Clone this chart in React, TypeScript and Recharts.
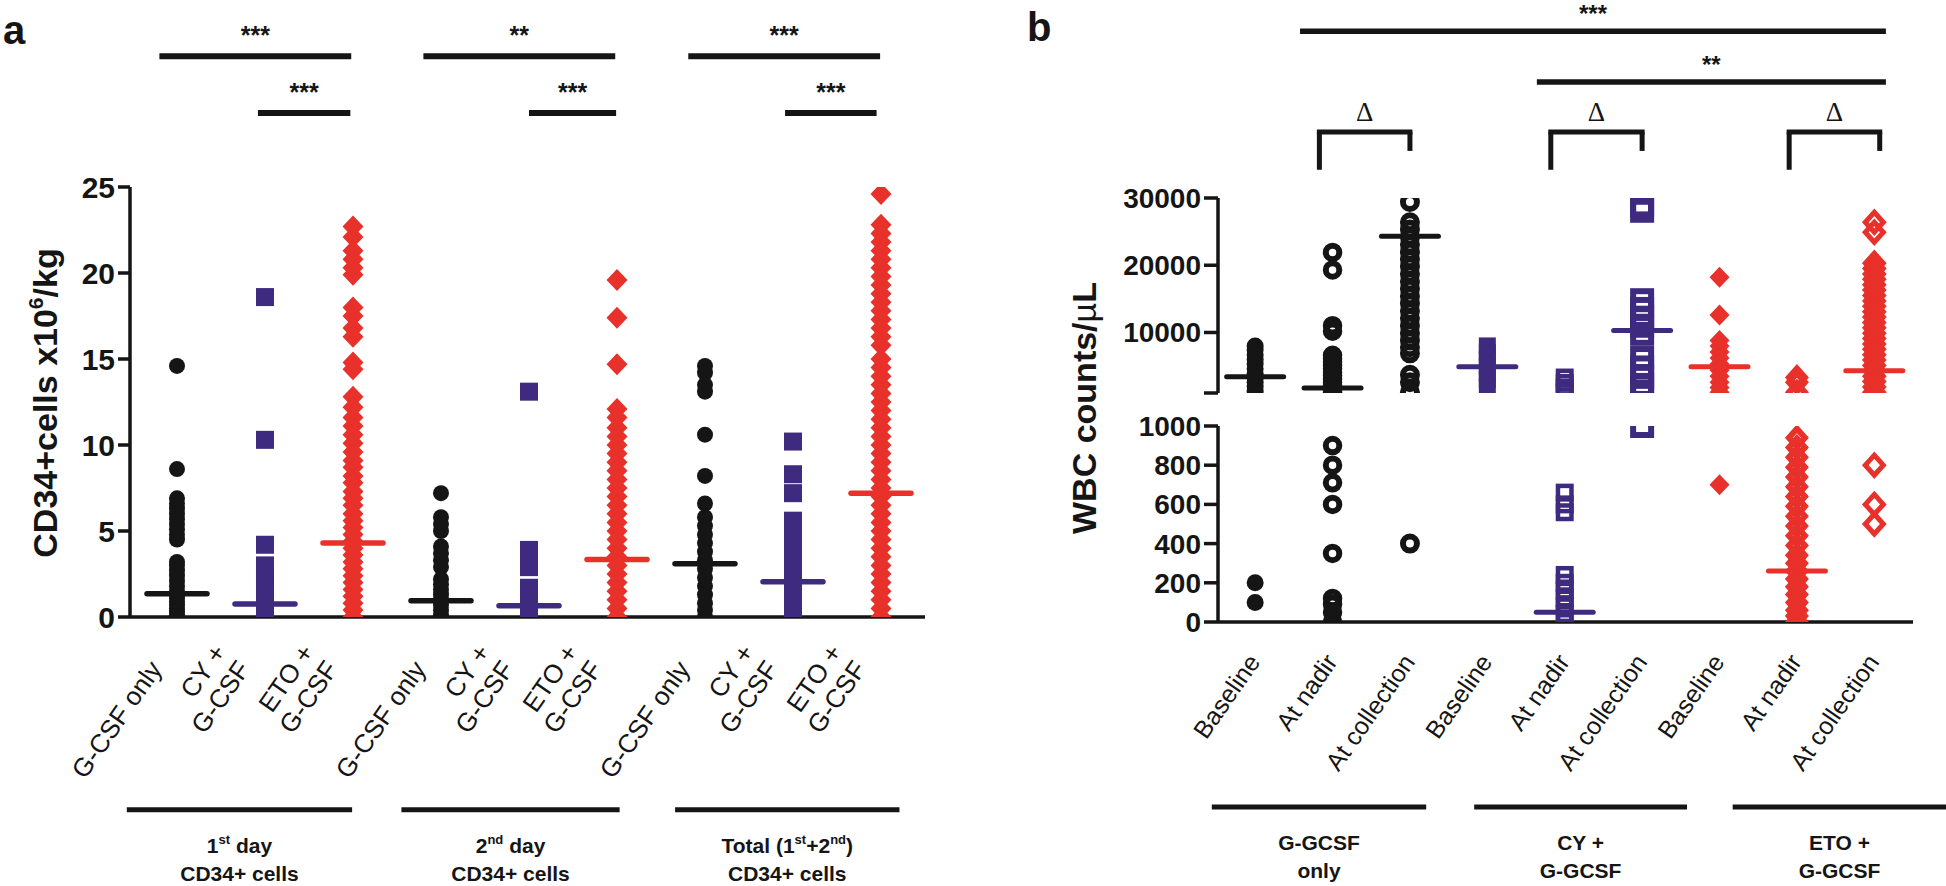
import React from 'react'
import { ScatterChart, Scatter, XAxis, YAxis, ReferenceLine, ReferenceDot } from 'recharts'

const FONT = '"Liberation Sans", Arial, Helvetica, sans-serif'
const BLACK = '#151515'
const PURPLE = '#3e2a7f'
const RED = '#e8312a'
const AXIS = { stroke: BLACK, strokeWidth: 3.5 }

const COLS = [1, 2, 3, 4, 5, 6, 7, 8, 9]
const A_COLORS = [BLACK, PURPLE, RED, BLACK, PURPLE, RED, BLACK, PURPLE, RED]
const B_COLORS = [BLACK, BLACK, BLACK, PURPLE, PURPLE, PURPLE, RED, RED, RED]

// ---------- panel a: CD34+ cells x10^6/kg ----------
const A_TICK_LABELS = ['G-CSF only', 'CY +\nG-CSF', 'ETO +\nG-CSF', 'G-CSF only', 'CY +\nG-CSF', 'ETO +\nG-CSF', 'G-CSF only', 'CY +\nG-CSF', 'ETO +\nG-CSF']
const A_Y_TICKS = [0, 5, 10, 15, 20, 25]
const A_GROUPS = [['1^{st} day', 'CD34+ cells'], ['2^{nd} day', 'CD34+ cells'], ['Total (1^{st}+2^{nd})', 'CD34+ cells']]

const day1Gcsf = [14.6, 8.6, 6.9, 6.6, 6.3, 6.0, 5.7, 5.4, 5.1, 4.8, 4.5, 3.2, 3.0, 2.7, 2.4, 2.1, 1.8, 1.5, 1.3, 1.1, 0.9, 0.7, 0.5, 0.3, 0.1, 0.0]
const day1Cy = [18.6, 10.3, 4.2, 3.0, 2.4, 1.8, 1.2, 0.6, 0.0]
const day1Eto = [22.7, 22.1, 21.3, 20.8, 20.3, 19.9, 18.0, 17.5, 16.8, 16.3, 14.8, 14.4, 12.8, 12.2, 11.6, 11.1, 10.6, 10.1, 9.6, 9.1, 8.7, 8.2, 7.8, 7.3, 6.9, 6.5, 6.0, 5.6, 5.2, 4.8, 4.4, 4.0, 3.6, 3.2, 2.8, 2.4, 2.0, 1.6, 1.2, 0.8, 0.4, 0.0]
const day2Gcsf = [7.2, 5.8, 5.4, 5.0, 4.1, 3.7, 3.3, 2.9, 2.2, 1.9, 1.6, 1.3, 1.0, 0.7, 0.4, 0.1, 0.0]
const day2Cy = [13.1, 3.9, 2.9, 1.7, 1.1, 0.5, 0.0]
const day2Eto = [19.6, 17.4, 14.7, 12.1, 11.6, 11.0, 10.5, 10.0, 9.5, 9.0, 8.5, 8.0, 7.5, 7.0, 6.5, 6.0, 5.5, 5.0, 4.5, 4.0, 3.5, 3.0, 2.5, 2.0, 1.5, 1.0, 0.5, 0.0]
const totalGcsf = [14.6, 14.2, 13.5, 13.1, 10.6, 8.2, 6.6, 5.8, 5.3, 4.8, 4.3, 3.8, 3.3, 2.8, 2.3, 1.8, 1.3, 0.8, 0.4, 0.0]
const totalCy = [10.2, 8.3, 7.2, 5.6, 4.6, 3.8, 3.0, 2.2, 1.4, 0.6, 0.0]
const totalEto = [24.6, 22.8, 22.3, 21.8, 21.3, 20.8, 20.3, 19.8, 19.3, 18.8, 18.3, 17.8, 17.3, 16.8, 16.3, 15.8, 15.0, 14.5, 14.0, 13.5, 13.0, 12.5, 12.0, 11.5, 11.0, 10.5, 10.0, 9.5, 9.0, 8.5, 8.0, 7.5, 7.0, 6.5, 6.0, 5.5, 5.0, 4.5, 4.0, 3.5, 3.0, 2.5, 2.0, 1.5, 1.0, 0.5, 0.0]
const A_VALUES = [day1Gcsf, day1Cy, day1Eto, day2Gcsf, day2Cy, day2Eto, totalGcsf, totalCy, totalEto]
const A_MEDIANS = [1.35, 0.75, 4.3, 0.95, 0.65, 3.35, 3.1, 2.05, 7.2]

// significance bars (x in column units, y in axis units)
const A_SIG = [
  { x1: 0.8, x2: 2.98, y: 32.6, label: '***' },
  { x1: 1.92, x2: 2.97, y: 29.3, label: '***' },
  { x1: 3.8, x2: 5.98, y: 32.6, label: '**' },
  { x1: 5.0, x2: 5.99, y: 29.3, label: '***' },
  { x1: 6.81, x2: 8.99, y: 32.6, label: '***' },
  { x1: 7.91, x2: 8.95, y: 29.3, label: '***' },
]
const A_GROUP_LINES = [{ x1: 0.43, x2: 2.99 }, { x1: 3.55, x2: 6.03 }, { x1: 6.66, x2: 9.21 }]
const A_GROUP_Y = -11.2

// ---------- panel b: WBC counts/uL ----------
const B_TICK_LABELS = ['Baseline', 'At nadir', 'At collection', 'Baseline', 'At nadir', 'At collection', 'Baseline', 'At nadir', 'At collection']
const B_UPPER_TICKS = [1000, 10000, 20000, 30000]
const B_LOWER_TICKS = [0, 200, 400, 600, 800, 1000]
const B_BREAK = 1000
const B_GROUPS = [['G-GCSF', 'only'], ['CY +', 'G-GCSF'], ['ETO +', 'G-GCSF']]

const gcsfBaseline = [8000, 7400, 6700, 6000, 5300, 4600, 3900, 3200, 2600, 2000, 1300, 200, 100]
const gcsfNadir = [21900, 19300, 11000, 10200, 6600, 6100, 5600, 5100, 4600, 4100, 3600, 3100, 2600, 2100, 1600, 1100, 900, 800, 710, 600, 350, 120, 90, 50, 0]
const gcsfCollection = [29400, 26400, 25300, 24200, 23100, 22000, 20900, 19800, 18700, 17600, 16500, 15400, 14300, 13200, 12100, 11000, 9900, 8800, 7800, 6900, 3700, 2600, 1100, 400]
const cyBaseline = [8000, 7000, 6000, 5000, 4000, 3000, 1900]
const cyNadir = [3300, 2500, 1800, 1100, 660, 600, 560, 240, 200, 160, 120, 80, 40, 0]
const cyCollection = [28900, 28100, 14800, 13500, 12200, 11000, 9800, 6200, 4800, 3400, 2200, 1200, 1000]
const etoBaseline = [18200, 12600, 8800, 8000, 7100, 6200, 5300, 4400, 3500, 2600, 1800, 1100, 700]
const etoNadir = [3300, 2600, 1100, 940, 890, 840, 790, 740, 690, 640, 590, 540, 490, 440, 390, 340, 300, 260, 220, 180, 140, 100, 60, 30, 0]
const etoCollection = [26400, 24900, 20300, 19500, 18700, 17900, 17100, 16300, 15500, 14700, 13900, 13100, 12300, 11500, 10700, 9900, 9100, 8300, 7500, 6700, 5900, 5100, 4300, 3500, 2700, 1900, 1100, 800, 600, 500]
const B_VALUES = [gcsfBaseline, gcsfNadir, gcsfCollection, cyBaseline, cyNadir, cyCollection, etoBaseline, etoNadir, etoCollection]
const B_MEDIANS = [3400, 1750, 24300, 4900, 50, 10300, 4900, 260, 4300]

const B_SIG = [
  { x1: 1.58, x2: 9.15, y: 54800, label: '***' },
  { x1: 4.64, x2: 9.15, y: 47250, label: '**' },
]
const B_BRACKETS = [{ x1: 1.83, x2: 3.0 }, { x1: 4.82, x2: 6.0 }, { x1: 7.9, x2: 9.07 }]
const B_BRACKET_TOP = 39800
const B_BRACKET_LEFT_END = 34200
const B_BRACKET_RIGHT_END = 37000
const B_GROUP_LINES = [{ x1: 0.44, x2: 3.21 }, { x1: 3.83, x2: 6.58 }, { x1: 7.17, x2: 9.93 }]
const B_GROUP_Y = -944

type Marker = { kind: string; color: string; w: number; h?: number; sw?: number }

const A_MARKERS: Marker[] = [0, 1, 2, 3, 4, 5, 6, 7, 8].map((i) =>
  i % 3 === 0 ? { kind: 'circle', color: BLACK, w: 16 } : i % 3 === 1 ? { kind: 'square', color: PURPLE, w: 18 } : { kind: 'diamond', color: RED, w: 21, h: 22 }
)
const B_MARKERS: Marker[] = [
  { kind: 'circle', color: BLACK, w: 17 },
  { kind: 'ring', color: BLACK, w: 13.5, sw: 6 },
  { kind: 'ring', color: BLACK, w: 14, sw: 6 },
  { kind: 'square', color: PURPLE, w: 17 },
  { kind: 'openSquare', color: PURPLE, w: 13.5, sw: 4.5 },
  { kind: 'openSquare', color: PURPLE, w: 18, sw: 6 },
  { kind: 'diamond', color: RED, w: 20, h: 21 },
  { kind: 'openDiamond', color: RED, w: 16, h: 18, sw: 6 },
  { kind: 'openDiamond', color: RED, w: 18, h: 20, sw: 5 },
]

function markerShape(m: Marker) {
  return (p: any) => {
    const { cx, cy } = p
    if (cx == null || cy == null) return <g />
    const w = m.w
    const h = m.h ?? m.w
    const dia = `M${cx},${cy - h / 2}L${cx + w / 2},${cy}L${cx},${cy + h / 2}L${cx - w / 2},${cy}Z`
    switch (m.kind) {
      case 'circle':
        return <circle cx={cx} cy={cy} r={w / 2} fill={m.color} />
      case 'ring':
        return <circle cx={cx} cy={cy} r={w / 2} fill="none" stroke={m.color} strokeWidth={m.sw} />
      case 'square':
        return <rect x={cx - w / 2} y={cy - h / 2} width={w} height={h} fill={m.color} />
      case 'openSquare':
        return <rect x={cx - w / 2} y={cy - h / 2} width={w} height={h} fill="none" stroke={m.color} strokeWidth={m.sw} />
      case 'diamond':
        return <path d={dia} fill={m.color} />
      default:
        return <path d={dia} fill="none" stroke={m.color} strokeWidth={m.sw} />
    }
  }
}

function medianShape(colors: string[], width: number, thick: number) {
  return (p: any) => {
    const { cx, cy, payload } = p
    if (cx == null || cy == null) return <g />
    const color = colors[payload.x - 1]
    return <line x1={cx - width / 2} x2={cx + width / 2} y1={cy} y2={cy} stroke={color} strokeWidth={thick} strokeLinecap="round" />
  }
}

// text with ^{...} superscripts
function rich(str: string, fs: number) {
  const parts = str.split(/\^\{([^}]*)\}/)
  const out: React.ReactNode[] = []
  let shifted = false
  parts.forEach((p, i) => {
    if (i % 2 === 1) {
      out.push(<tspan key={i} dy={shifted ? 0 : -fs * 0.4} fontSize={fs * 0.62}>{p}</tspan>)
      shifted = true
    } else if (p) {
      out.push(<tspan key={i} dy={shifted ? fs * 0.4 : 0}>{p}</tspan>)
      shifted = false
    }
  })
  return out
}

function RotTick(props: any) {
  const { x, y, payload, labels, dx, dy, fs } = props
  const lines = String(labels[Math.round(payload.value) - 1]).split('\n')
  const ax = x + dx
  const ay = y + dy
  return (
    <text transform={`rotate(-55 ${ax} ${ay})`} x={ax} y={ay} textAnchor="end" fontSize={fs} fontFamily={FONT} fill={BLACK}>
      {lines.map((l, i) => (
        <tspan key={i} x={ax} dy={i === 0 ? -(lines.length - 1) * fs * 1.12 : fs * 1.12}>{l}</tspan>
      ))}
    </text>
  )
}

const textShape = (content: string, fs: number, dy: number, weight = 'bold', family = FONT) => (p: any) => (
  <text x={p.cx} y={p.cy + dy} textAnchor="middle" fontSize={fs} fontWeight={weight} fontFamily={family} fill={BLACK}>{content}</text>
)

const groupShape = (lines: string[]) => (p: any) => (
  <text x={p.cx} y={p.cy} textAnchor="middle" fontSize={21} fontWeight="bold" fontFamily={FONT} fill={BLACK}>
    <tspan x={p.cx} y={p.cy + 43}>{rich(lines[0], 21)}</tspan>
    <tspan x={p.cx} y={p.cy + 71}>{rich(lines[1], 21)}</tspan>
  </text>
)

const yTickStyle = (fs: number) => ({ fontSize: fs, fontWeight: 'bold', fill: BLACK, fontFamily: FONT })

function PanelA() {
  return (
    <ScatterChart width={960} height={886} margin={{ top: 187, right: 35, bottom: 209, left: 0 }}>
      <XAxis type="number" dataKey="x" domain={[0.466, 9.5]} ticks={COLS} interval={0} allowDataOverflow height={60}
        tickLine={false} tickSize={0} tickMargin={0} axisLine={AXIS}
        tick={(p: any) => <RotTick {...p} labels={A_TICK_LABELS} dx={-14} dy={52} fs={26} />} />
      <YAxis type="number" dataKey="y" domain={[0, 25]} ticks={A_Y_TICKS} interval={0} allowDataOverflow width={130}
        tickSize={12} tickMargin={3} axisLine={AXIS} tickLine={AXIS} tick={yTickStyle(30)} />
      {A_VALUES.map((vals, i) => (
        <Scatter key={i} data={vals.map((v) => ({ x: i + 1, y: v }))} shape={markerShape(A_MARKERS[i])} isAnimationActive={false} />
      ))}
      <Scatter data={A_MEDIANS.map((m, i) => ({ x: i + 1, y: m }))} shape={medianShape(A_COLORS, 60, 5.5)} isAnimationActive={false} />
      {A_SIG.map((s, i) => (
        <ReferenceLine key={'sl' + i} segment={[{ x: s.x1, y: s.y }, { x: s.x2, y: s.y }]} stroke={BLACK} strokeWidth={6} ifOverflow="visible" />
      ))}
      {A_SIG.map((s, i) => (
        <ReferenceDot key={'st' + i} x={(s.x1 + s.x2) / 2} y={s.y} ifOverflow="visible" shape={textShape(s.label, 25, -12)} />
      ))}
      {A_GROUP_LINES.map((g, i) => (
        <ReferenceLine key={'gl' + i} segment={[{ x: g.x1, y: A_GROUP_Y }, { x: g.x2, y: A_GROUP_Y }]} stroke={BLACK} strokeWidth={5} ifOverflow="visible" />
      ))}
      {A_GROUP_LINES.map((g, i) => (
        <ReferenceDot key={'gt' + i} x={(g.x1 + g.x2) / 2} y={A_GROUP_Y} ifOverflow="visible" shape={groupShape(A_GROUPS[i])} />
      ))}
    </ScatterChart>
  )
}

function PanelBUpper() {
  return (
    <ScatterChart width={986} height={410} margin={{ top: 198, right: 33, bottom: 17, left: 0 }}>
      <XAxis type="number" dataKey="x" domain={[0.52, 9.5]} allowDataOverflow hide />
      <YAxis type="number" dataKey="y" domain={[B_BREAK, 30000]} ticks={B_UPPER_TICKS} interval={0} allowDataOverflow width={258}
        tickSize={14} tickMargin={3} axisLine={AXIS} tickLine={AXIS} tick={yTickStyle(28)}
        tickFormatter={(v: number) => (v === B_BREAK ? '' : String(v))} />
      {B_VALUES.map((vals, i) => (
        <Scatter key={i} data={vals.filter((v) => v > B_BREAK).map((v) => ({ x: i + 1, y: v }))} shape={markerShape(B_MARKERS[i])} isAnimationActive={false} />
      ))}
      <Scatter data={B_MEDIANS.map((m, i) => ({ x: i + 1, y: m })).filter((d) => d.y > B_BREAK)} shape={medianShape(B_COLORS, 57, 5)} isAnimationActive={false} />
      {B_SIG.map((s, i) => (
        <ReferenceLine key={'sl' + i} segment={[{ x: s.x1, y: s.y }, { x: s.x2, y: s.y }]} stroke={BLACK} strokeWidth={5.5} ifOverflow="visible" />
      ))}
      {B_SIG.map((s, i) => (
        <ReferenceDot key={'st' + i} x={(s.x1 + s.x2) / 2} y={s.y} ifOverflow="visible" shape={textShape(s.label, 24, -9)} />
      ))}
      {B_BRACKETS.map((b, i) => (
        <ReferenceLine key={'bt' + i} segment={[{ x: b.x1, y: B_BRACKET_TOP }, { x: b.x2, y: B_BRACKET_TOP }]} stroke={BLACK} strokeWidth={5} strokeLinecap="square" ifOverflow="visible" />
      ))}
      {B_BRACKETS.map((b, i) => (
        <ReferenceLine key={'bl' + i} segment={[{ x: b.x1, y: B_BRACKET_TOP }, { x: b.x1, y: B_BRACKET_LEFT_END }]} stroke={BLACK} strokeWidth={5} ifOverflow="visible" />
      ))}
      {B_BRACKETS.map((b, i) => (
        <ReferenceLine key={'br' + i} segment={[{ x: b.x2, y: B_BRACKET_TOP }, { x: b.x2, y: B_BRACKET_RIGHT_END }]} stroke={BLACK} strokeWidth={5} ifOverflow="visible" />
      ))}
      {B_BRACKETS.map((b, i) => (
        <ReferenceDot key={'bd' + i} x={(b.x1 + b.x2) / 2} y={B_BRACKET_TOP} ifOverflow="visible" shape={textShape('\u0394', 27, -11, 'normal', '"Liberation Serif", "Times New Roman", serif')} />
      ))}
    </ScatterChart>
  )
}

function PanelBLower() {
  return (
    <ScatterChart width={986} height={476} margin={{ top: 16, right: 33, bottom: 204, left: 0 }}>
      <XAxis type="number" dataKey="x" domain={[0.52, 9.5]} ticks={COLS} interval={0} allowDataOverflow height={60}
        tickLine={false} tickSize={0} tickMargin={0} axisLine={AXIS}
        tick={(p: any) => <RotTick {...p} labels={B_TICK_LABELS} dx={6} dy={40} fs={25} />} />
      <YAxis type="number" dataKey="y" domain={[0, B_BREAK]} ticks={B_LOWER_TICKS} interval={0} allowDataOverflow width={258}
        tickSize={14} tickMargin={3} axisLine={AXIS} tickLine={AXIS} tick={yTickStyle(28)} />
      {B_VALUES.map((vals, i) => (
        <Scatter key={i} data={vals.filter((v) => v <= B_BREAK).map((v) => ({ x: i + 1, y: v }))} shape={markerShape(B_MARKERS[i])} isAnimationActive={false} />
      ))}
      <Scatter data={B_MEDIANS.map((m, i) => ({ x: i + 1, y: m })).filter((d) => d.y <= B_BREAK)} shape={medianShape(B_COLORS, 57, 5)} isAnimationActive={false} />
      {B_GROUP_LINES.map((g, i) => (
        <ReferenceLine key={'gl' + i} segment={[{ x: g.x1, y: B_GROUP_Y }, { x: g.x2, y: B_GROUP_Y }]} stroke={BLACK} strokeWidth={5} ifOverflow="visible" />
      ))}
      {B_GROUP_LINES.map((g, i) => (
        <ReferenceDot key={'gt' + i} x={(g.x1 + g.x2) / 2} y={B_GROUP_Y} ifOverflow="visible" shape={groupShape(B_GROUPS[i])} />
      ))}
    </ScatterChart>
  )
}

export default function App() {
  return (
    <div style={{ position: 'absolute', left: 0, top: 0, width: 1946, height: 886, background: '#fff', overflow: 'hidden' }}>
      <div style={{ position: 'absolute', left: 0, top: 0 }}><PanelA /></div>
      <div style={{ position: 'absolute', left: 960, top: 0 }}><PanelBUpper /></div>
      <div style={{ position: 'absolute', left: 960, top: 410 }}><PanelBLower /></div>
      <svg width={1946} height={886} style={{ position: 'absolute', left: 0, top: 0, pointerEvents: 'none' }} fontFamily={FONT} fill={BLACK}>
        <text x={3} y={44} fontSize={40} fontWeight="bold">a</text>
        <text x={1027} y={41} fontSize={40} fontWeight="bold">b</text>
        <text transform="rotate(-90 57 403)" x={57} y={403} textAnchor="middle" fontSize={34} fontWeight="bold">
          {rich('CD34+cells x10^{6}/kg', 34)}
        </text>
        <text transform="rotate(-90 1096 408)" x={1096} y={408} textAnchor="middle" fontSize={34} fontWeight="bold">
          WBC counts/<tspan fontWeight="normal">{'\u00b5'}</tspan>L
        </text>
      </svg>
    </div>
  )
}
